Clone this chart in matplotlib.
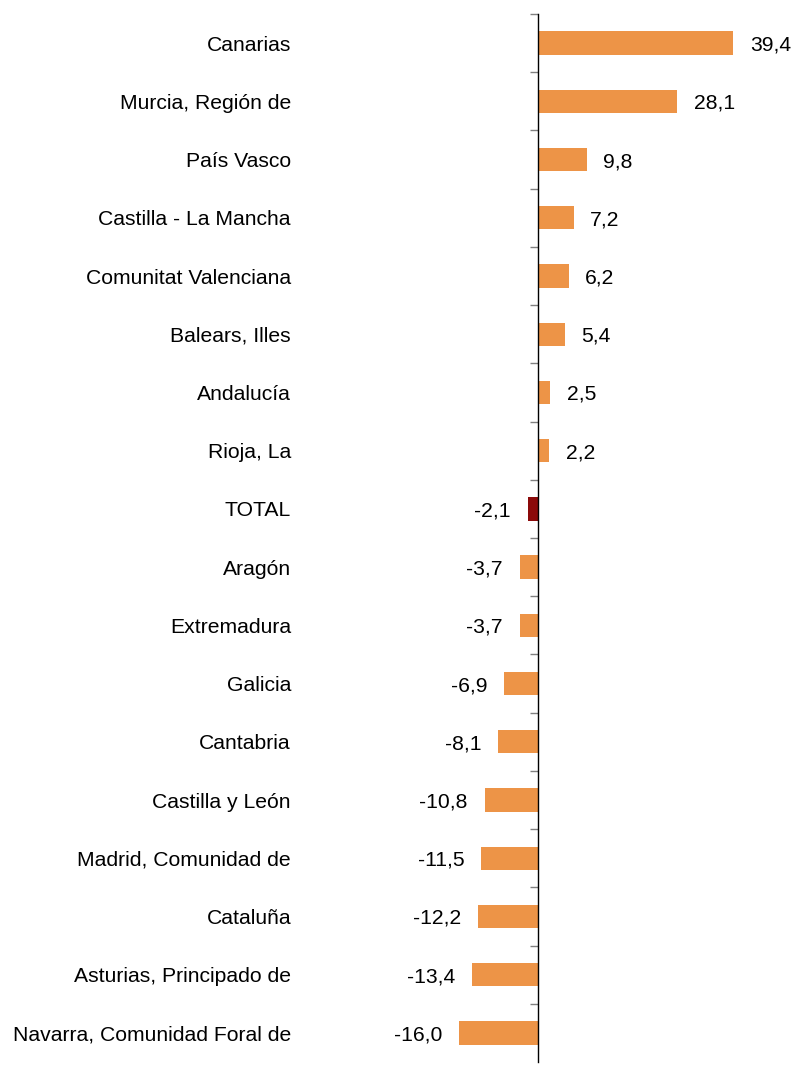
import matplotlib.pyplot as plt
import matplotlib.transforms as mtransforms
import numpy as np

regions = ["Canarias", "Murcia, Región de", "País Vasco", "Castilla - La Mancha",
           "Comunitat Valenciana", "Balears, Illes", "Andalucía", "Rioja, La",
           "TOTAL", "Aragón", "Extremadura", "Galicia", "Cantabria",
           "Castilla y León", "Madrid, Comunidad de", "Cataluña",
           "Asturias, Principado de", "Navarra, Comunidad Foral de"]
values = [39.4, 28.1, 9.8, 7.2, 6.2, 5.4, 2.5, 2.2, -2.1, -3.7, -3.7, -6.9,
          -8.1, -10.8, -11.5, -12.2, -13.4, -16.0]

plt.rcParams['font.family'] = ['Liberation Sans', 'DejaVu Sans']

W, H = 798, 1066
fig = plt.figure(figsize=(W / 100, H / 100), dpi=100)
ax = fig.add_axes([300 / W, 4 / H, 490 / W, 1048 / H])

orange = "#ED9447"
darkred = "#8B0A0A"
colors = [darkred if r == "TOTAL" else orange for r in regions]
y = np.arange(len(regions))
ax.barh(y, values, height=0.4, color=colors)

ax.set_xlim(-238 / 4.95, 252 / 4.95)
ax.set_ylim(len(regions) - 0.5, -0.5)

for s in ["top", "right", "bottom"]:
    ax.spines[s].set_visible(False)
ax.spines["left"].set_position(("data", 0))
ax.spines["left"].set_color("black")
ax.spines["left"].set_linewidth(1)
ax.set_xticks([])
ax.set_yticks(np.arange(len(regions)) - 0.5)
ax.set_yticklabels([])
ax.tick_params(axis="y", direction="out", length=6, color="#808080", width=1)

fs = 15.2
trans = mtransforms.blended_transform_factory(fig.transFigure, ax.transData)
for i, r in enumerate(regions):
    ax.text(291 / W, i, r, transform=trans, ha="right", va="center_baseline", fontsize=fs)

for i, v in enumerate(values):
    lab = f"{v:.1f}".replace(".", ",")
    if v >= 0:
        ax.annotate(lab, (v, i), xytext=(12, 0), textcoords="offset points",
                    ha="left", va="center_baseline", fontsize=fs)
    else:
        ax.annotate(lab, (v, i), xytext=(-12, 0), textcoords="offset points",
                    ha="right", va="center_baseline", fontsize=fs)

fig.savefig("out.png", dpi=100)
